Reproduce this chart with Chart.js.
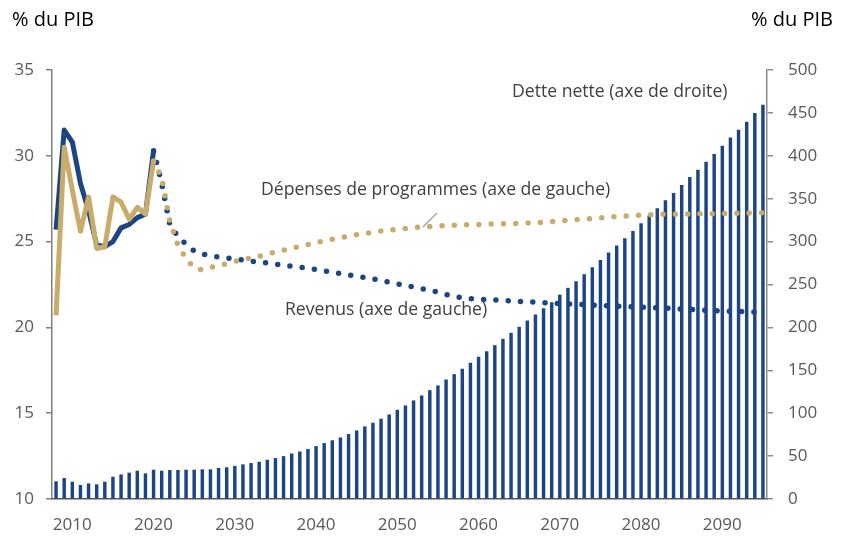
<!DOCTYPE html>
<html>
<head>
<meta charset="utf-8">
<script src="https://cdn.jsdelivr.net/npm/chart.js@4"></script>
<style>
  body { margin: 0; background: #fff; }
</style>
</head>
<body>
<canvas id="debtChart" width="846" height="537"></canvas>
<script>
const years = [];
for (let y = 2008; y <= 2095; y++) years.push(y);

// Dette nette, % du PIB (axe de droite), 2008-2095
const netDebt = [
  20.2, 24.0, 19.8, 15.9, 17.8, 16.7, 19.8, 25.6, 28.3, 30.3, 32.6, 29.5,
  33.8, 32.6, 33.4, 33.4, 33.8, 33.8, 34.2, 34.2, 35.8, 36.6,
  38.2, 40.0, 41.5, 43.0, 45.4, 47.3, 49.6, 52.7, 55.0, 57.8,
  61.3, 64.8, 68.0, 71.4, 75.3, 79.5, 84.2, 88.5, 93.2, 98.2,
  103.6, 108.7, 114.5, 120.3, 126.5, 132.0, 138.9, 145.1, 151.4, 158.4,
  165.4, 171.9, 178.9, 186.3, 193.3, 200.3, 207.6, 214.6, 222.0, 229.0,
  237.8, 245.7, 253.4, 261.6, 269.7, 278.3, 286.8, 295.0, 303.5, 312.1,
  320.9, 329.9, 338.4, 347.7, 356.3, 365.7, 375.0, 383.5, 392.8, 401.8,
  411.4, 420.8, 430.1, 439.4, 449.5, 459.2
];

// Historique 2008-2020
const revenueHist = [25.7, 31.5, 30.8, 28.4, 26.8, 24.8, 24.7, 25.0, 25.8, 26.0, 26.4, 26.6, 30.3];
const spendingHist = [20.7, 30.5, 28.0, 25.6, 27.6, 24.6, 24.7, 27.6, 27.3, 26.3, 27.0, 26.6, 29.7];

// Projections 2020-2095
const revenueProj = [
  30.3, 28.4, 26.0, 25.3, 24.85, 24.45, 24.27, 24.2, 24.1, 24.05,
  24.0, 23.92, 23.85, 23.8, 23.75, 23.68, 23.62, 23.56, 23.5, 23.45,
  23.38, 23.3, 23.22, 23.14, 23.06, 22.99, 22.91, 22.83, 22.74, 22.64,
  22.54, 22.44, 22.35, 22.26, 22.18, 22.05, 21.92, 21.8, 21.73, 21.68,
  21.65, 21.62, 21.6, 21.57, 21.55, 21.52, 21.49, 21.47, 21.44, 21.41,
  21.39, 21.37, 21.35, 21.33, 21.3, 21.28, 21.26, 21.24, 21.22, 21.2,
  21.18, 21.16, 21.14, 21.12, 21.1, 21.07, 21.05, 21.02, 21.0, 20.98,
  20.96, 20.94, 20.93, 20.91, 20.89, 20.87
];
const spendingProj = [
  29.7, 28.7, 26.2, 24.8, 24.0, 23.45, 23.35, 23.5, 23.6, 23.72,
  23.85, 23.95, 24.05, 24.15, 24.27, 24.4, 24.5, 24.6, 24.72, 24.83,
  24.93, 25.04, 25.13, 25.22, 25.31, 25.4, 25.47, 25.55, 25.62, 25.67,
  25.71, 25.76, 25.81, 25.85, 25.88, 25.91, 25.93, 25.95, 25.97, 25.99,
  26.0, 26.01, 26.03, 26.04, 26.05, 26.06, 26.08, 26.1, 26.13, 26.17,
  26.2, 26.24, 26.28, 26.31, 26.34, 26.38, 26.42, 26.46, 26.49, 26.52,
  26.55, 26.57, 26.58, 26.59, 26.6, 26.6, 26.61, 26.62, 26.62, 26.63,
  26.64, 26.65, 26.66, 26.67, 26.68, 26.69
];

const BLUE = '#1c4584';
const GOLD = '#c8ac6c';
const splitIdx = years.indexOf(2020);

// pad history / projections with nulls so they sit on the full year axis
const padHist = arr => years.map((y, i) => i < arr.length ? arr[i] : null);
const padProj = arr => years.map((y, i) => i >= splitIdx ? arr[i - splitIdx] : null);

const labelsPlugin = {
  id: 'labels',
  afterDraw(chart) {
    const c = chart.ctx;
    c.save();
    c.fillStyle = '#000';
    c.font = '20px "Open Sans"';
    c.textBaseline = 'middle';
    c.textAlign = 'left';
    c.fillText('% du PIB', 12, 20);
    c.textAlign = 'right';
    c.fillText('% du PIB', 833, 20);

    c.fillStyle = '#404040';
    c.font = '17.6px "Open Sans"';
    c.textAlign = 'left';
    c.fillText('Dette nette (axe de droite)', 512, 92);
    c.fillText('Dépenses de programmes (axe de gauche)', 261, 190);
    c.fillText('Revenus (axe de gauche)', 285, 310);

    // leader line to the spending curve
    c.strokeStyle = '#a6a6a6';
    c.lineWidth = 1.5;
    c.beginPath();
    c.moveTo(423, 227);
    c.lineTo(437, 213);
    c.stroke();
    c.restore();
  }
};

new Chart(document.getElementById('debtChart'), {
  data: {
    labels: years,
    datasets: [
      {
        type: 'line',
        label: 'Dépenses (historique)',
        data: padHist(spendingHist),
        yAxisID: 'y',
        borderColor: GOLD,
        borderWidth: 5,
        pointRadius: 0,
        tension: 0,
        borderJoinStyle: 'round',
        order: 0
      },
      {
        type: 'line',
        label: 'Dépenses (projection)',
        data: padProj(spendingProj),
        yAxisID: 'y',
        borderColor: GOLD,
        borderWidth: 5.5,
        borderDash: [0, 12.3],
        borderCapStyle: 'round',
        pointRadius: 0,
        tension: 0,
        order: 0
      },
      {
        type: 'line',
        label: 'Revenus (historique)',
        data: padHist(revenueHist),
        yAxisID: 'y',
        borderColor: BLUE,
        borderWidth: 5,
        pointRadius: 0,
        tension: 0,
        borderJoinStyle: 'round',
        order: 1
      },
      {
        type: 'line',
        label: 'Revenus (projection)',
        data: padProj(revenueProj),
        yAxisID: 'y',
        borderColor: BLUE,
        borderWidth: 5.5,
        borderDash: [0, 12.3],
        borderCapStyle: 'round',
        pointRadius: 0,
        tension: 0,
        order: 1
      },
      {
        type: 'bar',
        label: 'Dette nette',
        data: netDebt,
        yAxisID: 'y2',
        backgroundColor: BLUE,
        barThickness: 2.8,
        order: 10
      }
    ]
  },
  options: {
    responsive: false,
    animation: false,
    layout: { padding: { top: 70, left: 0, right: 0, bottom: 0 } },
    plugins: {
      legend: { display: false },
      tooltip: { enabled: false }
    },
    scales: {
      x: {
        type: 'category',
        offset: true,
        grid: { display: false, drawTicks: false },
        border: { display: true, color: '#595959', width: 1.5 },
        ticks: {
          autoSkip: false,
          maxRotation: 0,
          padding: 16,
          color: '#595959',
          font: { size: 17, family: 'Open Sans' },
          callback: function (val, index) {
            const y = years[index];
            return y % 10 === 0 ? String(y) : '';
          }
        },
        afterFit: s => { s.height = 38; }
      },
      y: {
        position: 'left',
        min: 10,
        max: 35,
        ticks: {
          stepSize: 5,
          padding: 12,
          color: '#595959',
          font: { size: 17, family: 'Open Sans' }
        },
        grid: { drawOnChartArea: false, drawTicks: true, tickLength: 6, color: '#808080', lineWidth: 1.5 },
        border: { display: true, color: '#808080', width: 1.5 },
        afterFit: s => { s.width = 52; }
      },
      y2: {
        position: 'right',
        min: 0,
        max: 500,
        ticks: {
          stepSize: 50,
          padding: 15,
          color: '#595959',
          font: { size: 17, family: 'Open Sans' }
        },
        grid: { drawOnChartArea: false, drawTicks: true, tickLength: 6, color: '#8c8c8c', lineWidth: 1.5 },
        border: { display: true, color: '#8c8c8c', width: 1.5 },
        afterFit: s => { s.width = 79; }
      }
    }
  },
  plugins: [labelsPlugin]
});
</script>
</body>
</html>
